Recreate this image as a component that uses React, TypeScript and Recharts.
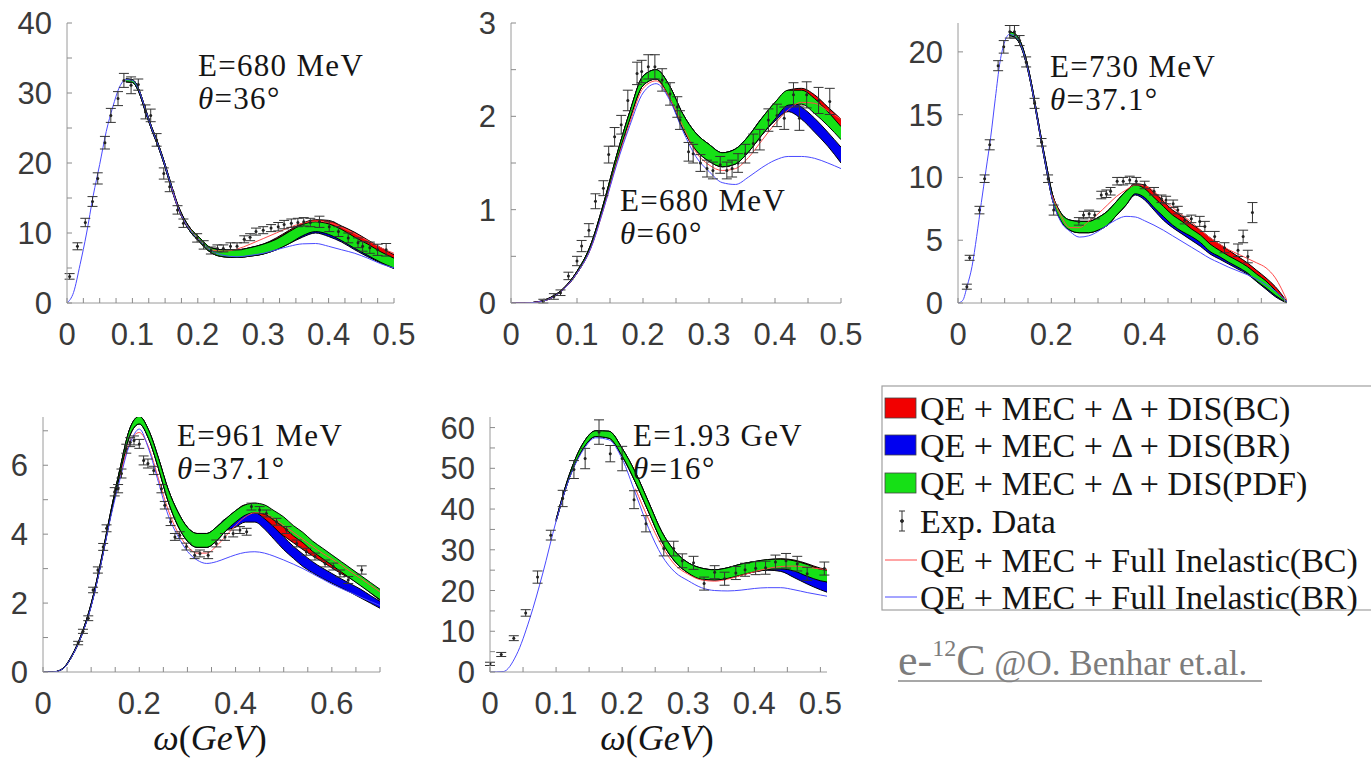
import React from 'react';
import { ComposedChart, Area, Line, Scatter, ErrorBar, XAxis, YAxis } from 'recharts';

const _ = null;
type N = number | null;

// ---------------- Panel 1 : E=680 MeV, theta=36 ----------------
const p1W = [0, 0.01, 0.02, 0.03, 0.04, 0.05, 0.06, 0.07, 0.08, 0.09, 0.1, 0.11, 0.12, 0.13, 0.14, 0.15, 0.16, 0.17, 0.18, 0.19, 0.2, 0.22, 0.24, 0.26, 0.28, 0.3, 0.32, 0.34, 0.36, 0.38, 0.4, 0.42, 0.44, 0.46, 0.48, 0.5];
const p1BlueLine: N[] = [0, 1.5, 5.5, 10, 15.3, 19.8, 24.5, 28, 30.8, 31.9, 31.8, 30.4, 27.6, 24.8, 22.4, 19.6, 16.5, 13.6, 11.6, 10.2, 9.2, 7.5, 6.8, 6.6, 6.8, 7.1, 7.6, 8.1, 8.45, 8.5, 8.1, 7.6, 7.1, 6.4, 5.6, 5.0];
const p1RedLine: N[] = [_, _, _, _, _, _, _, _, _, _, _, _, _, _, _, _, 16.5, 13.6, 11.6, 10.3, 9.3, 7.6, 7.4, 7.7, 8.4, 9.2, 10.0, 10.8, 11.4, 11.7, 11.5, 10.8, 9.9, 8.9, 7.9, 7.1];
const p1GreenLo: N[] = [_, _, _, _, _, _, _, _, _, 31.6, 31.5, 30.1, 27.3, 24.6, 22.2, 19.4, 16.3, 13.5, 11.5, 10.0, 9.0, 7.2, 6.6, 6.5, 6.7, 7.0, 7.6, 8.5, 9.6, 10.2, 9.8, 8.9, 7.8, 6.8, 5.8, 5.0];
const p1GreenHi: N[] = [_, _, _, _, _, _, _, _, _, 32.0, 31.9, 30.5, 27.7, 25.0, 22.6, 19.8, 16.7, 13.9, 11.9, 10.5, 9.6, 7.9, 7.6, 7.6, 7.9, 8.4, 9.1, 10.2, 11.2, 11.6, 11.3, 10.5, 9.4, 8.4, 7.3, 6.4];
const p1RedLo: N[] = [_, _, _, _, _, _, _, _, _, 31.6, 31.5, 30.1, 27.3, 24.6, 22.2, 19.4, 16.3, 13.5, 11.5, 10.0, 9.0, 7.2, 6.6, 6.5, 6.7, 7.0, 7.9, 8.8, 9.9, 10.6, 10.6, 9.9, 8.9, 7.9, 6.8, 5.7];
const p1RedHi: N[] = [_, _, _, _, _, _, _, _, _, 32.0, 31.9, 30.5, 27.7, 25.0, 22.6, 19.8, 16.7, 13.9, 11.9, 10.5, 9.6, 7.9, 7.6, 7.6, 7.9, 8.4, 9.3, 10.4, 11.4, 11.9, 11.8, 11.0, 10.1, 9.0, 7.9, 6.9];
const p1BlueLo: N[] = [_, _, _, _, _, _, _, _, _, 31.6, 31.5, 30.1, 27.3, 24.6, 22.2, 19.4, 16.3, 13.5, 11.5, 10.0, 9.0, 7.2, 6.6, 6.5, 6.7, 7.0, 7.6, 8.5, 9.4, 10.0, 9.5, 8.7, 7.6, 6.6, 5.7, 4.9];
const p1BlueHi: N[] = [_, _, _, _, _, _, _, _, _, 32.0, 31.9, 30.5, 27.7, 25.0, 22.6, 19.8, 16.7, 13.9, 11.9, 10.5, 9.6, 7.9, 7.6, 7.6, 7.9, 8.4, 9.1, 10.2, 10.6, 11.0, 10.6, 9.7, 8.6, 7.6, 6.6, 5.7];
const p1Points = [
  [0.004, 3.8, 0.4], [0.016, 8.1, 0.5], [0.028, 11.5, 0.6], [0.039, 14.5, 0.7], [0.047, 17.8, 0.8], [0.058, 22.9, 0.9], [0.067, 26.8, 1.0], [0.078, 29.2, 1.0], [0.087, 31.8, 1.0], [0.098, 31.1, 1.2], [0.109, 31.2, 0.8], [0.12, 27.3, 1.0], [0.128, 26.8, 0.9], [0.137, 23.3, 0.9], [0.148, 18.5, 0.8], [0.157, 16.6, 0.7], [0.169, 13.3, 0.6], [0.178, 11.4, 0.6], [0.199, 9.3, 0.6], [0.209, 8.3, 0.6], [0.22, 7.5, 0.5], [0.23, 7.8, 0.5], [0.239, 7.8, 0.5], [0.25, 8.1, 0.5], [0.26, 8.1, 0.5], [0.271, 9.1, 0.5], [0.28, 9.4, 0.5], [0.289, 10.2, 0.5], [0.3, 10.4, 0.5], [0.312, 10.7, 0.5], [0.323, 10.9, 0.6], [0.332, 11.2, 0.6], [0.343, 11.4, 0.6], [0.353, 11.5, 0.6], [0.362, 11.6, 0.6], [0.372, 11.5, 0.6], [0.386, 11.6, 0.8], [0.401, 10.9, 0.7], [0.415, 10.2, 0.7], [0.43, 9.3, 0.7], [0.445, 8.6, 0.7], [0.452, 8.1, 0.7], [0.463, 7.9, 0.8], [0.475, 7.6, 0.8], [0.488, 7.6, 0.9],
];

// ---------------- Panel 2 : E=680 MeV, theta=60 ----------------
const p2W = [0, 0.02, 0.04, 0.06, 0.08, 0.1, 0.12, 0.14, 0.16, 0.18, 0.2, 0.22, 0.24, 0.26, 0.28, 0.3, 0.32, 0.34, 0.36, 0.38, 0.4, 0.42, 0.44, 0.46, 0.48, 0.5];
const p2BlueLine: N[] = [0, 0, 0.01, 0.05, 0.15, 0.32, 0.57, 1.0, 1.48, 1.9, 2.25, 2.35, 2.18, 1.85, 1.57, 1.41, 1.29, 1.27, 1.35, 1.45, 1.53, 1.57, 1.57, 1.55, 1.5, 1.44];
const p2RedLine: N[] = [0, 0, 0.01, 0.05, 0.15, 0.32, 0.57, 1.0, 1.5, 1.93, 2.3, 2.38, 2.2, 1.9, 1.62, 1.48, 1.42, 1.44, 1.56, 1.74, 1.92, 2.07, 2.15, 2.14, 2.06, 1.97];
const p2GreenLo: N[] = [0, 0, 0.01, 0.05, 0.15, 0.32, 0.58, 1.02, 1.52, 1.97, 2.33, 2.4, 2.2, 1.87, 1.64, 1.52, 1.46, 1.49, 1.62, 1.8, 1.97, 2.12, 2.13, 2.03, 1.9, 1.75];
const p2GreenHi: N[] = [0, 0, 0.012, 0.06, 0.16, 0.34, 0.61, 1.06, 1.58, 2.05, 2.43, 2.5, 2.33, 2.03, 1.82, 1.7, 1.61, 1.65, 1.79, 1.98, 2.15, 2.28, 2.28, 2.19, 2.05, 1.89];
const p2RedLo: N[] = [0, 0, 0.01, 0.05, 0.15, 0.32, 0.58, 1.02, 1.52, 1.97, 2.33, 2.4, 2.2, 1.87, 1.64, 1.52, 1.46, 1.49, 1.62, 1.8, 1.97, 2.12, 2.15, 2.07, 1.95, 1.82];
const p2RedHi: N[] = [0, 0, 0.012, 0.06, 0.16, 0.34, 0.61, 1.06, 1.58, 2.05, 2.43, 2.5, 2.33, 2.03, 1.82, 1.7, 1.61, 1.65, 1.79, 1.98, 2.15, 2.28, 2.3, 2.23, 2.1, 1.97];
const p2BlueLo: N[] = [0, 0, 0.01, 0.05, 0.15, 0.32, 0.58, 1.02, 1.52, 1.97, 2.33, 2.4, 2.2, 1.87, 1.64, 1.52, 1.46, 1.49, 1.62, 1.8, 1.95, 2.05, 1.97, 1.83, 1.68, 1.5];
const p2BlueHi: N[] = [0, 0, 0.012, 0.06, 0.16, 0.34, 0.61, 1.06, 1.58, 2.05, 2.43, 2.5, 2.33, 2.03, 1.82, 1.7, 1.61, 1.65, 1.79, 1.98, 2.1, 2.17, 2.1, 1.98, 1.83, 1.67];
const p2Points = [
  [0.049, 0.02, 0.02], [0.065, 0.07, 0.03], [0.075, 0.11, 0.03], [0.087, 0.29, 0.04], [0.1, 0.45, 0.05], [0.107, 0.61, 0.06], [0.118, 0.78, 0.07], [0.128, 1.09, 0.08], [0.14, 1.23, 0.08], [0.148, 1.59, 0.09], [0.157, 1.78, 0.1], [0.167, 1.91, 0.1], [0.177, 2.17, 0.11], [0.191, 2.46, 0.12], [0.198, 2.48, 0.12], [0.208, 2.53, 0.13], [0.218, 2.53, 0.13], [0.229, 2.39, 0.12], [0.241, 2.24, 0.12], [0.252, 2.1, 0.11], [0.256, 1.96, 0.1], [0.269, 1.62, 0.1], [0.276, 1.6, 0.1], [0.287, 1.5, 0.09], [0.297, 1.44, 0.09], [0.306, 1.42, 0.09], [0.317, 1.48, 0.09], [0.327, 1.42, 0.09], [0.335, 1.44, 0.09], [0.344, 1.5, 0.1], [0.355, 1.6, 0.1], [0.367, 1.71, 0.1], [0.377, 1.75, 0.11], [0.39, 1.96, 0.12], [0.403, 2.01, 0.12], [0.414, 1.98, 0.12], [0.428, 2.23, 0.13], [0.437, 1.98, 0.13], [0.448, 2.23, 0.14], [0.466, 2.17, 0.14], [0.483, 2.16, 0.14],
];

// ---------------- Panel 3 : E=730 MeV, theta=37.1 ----------------
const p3W = [0, 0.01, 0.02, 0.03, 0.04, 0.05, 0.06, 0.07, 0.08, 0.09, 0.1, 0.11, 0.12, 0.13, 0.14, 0.15, 0.16, 0.17, 0.18, 0.19, 0.2, 0.22, 0.24, 0.26, 0.28, 0.3, 0.32, 0.34, 0.36, 0.38, 0.4, 0.42, 0.44, 0.46, 0.48, 0.5, 0.52, 0.54, 0.56, 0.58, 0.6, 0.62, 0.64, 0.66, 0.68, 0.705];
const p3BlueLine: N[] = [0, 0.2, 1.4, 2.9, 5.3, 8.0, 10.6, 13.2, 16.3, 19.2, 20.8, 21.4, 21.3, 20.9, 20.0, 18.6, 16.8, 14.7, 12.6, 10.6, 8.6, 6.5, 5.7, 5.25, 5.35, 5.7, 6.2, 6.65, 6.9, 6.85, 6.55, 6.2, 5.8, 5.35, 4.9, 4.45, 4.0, 3.55, 3.2, 2.85, 2.55, 2.25, 1.9, 1.45, 0.95, 0.1];
const p3RedLine: N[] = [_, _, _, _, _, _, _, _, _, _, _, _, _, _, _, _, _, _, _, _, 8.7, 7.0, 6.0, 6.0, 6.5, 7.1, 7.8, 8.5, 9.0, 9.4, 9.35, 8.9, 8.2, 7.6, 7.0, 6.45, 5.8, 5.2, 4.7, 4.25, 3.9, 3.55, 3.2, 2.8, 2.0, 0.2];
const p3GreenLo: N[] = [_, _, _, _, _, _, _, _, _, _, _, 21.3, 21.2, 20.8, 19.9, 18.5, 16.7, 14.6, 12.5, 10.5, 8.6, 6.6, 5.8, 5.6, 5.6, 5.8, 6.2, 7.0, 7.8, 8.7, 8.4, 7.6, 6.9, 6.2, 5.7, 5.3, 4.8, 4.1, 3.7, 3.25, 2.85, 2.4, 1.75, 1.2, 0.6, 0];
const p3GreenHi: N[] = [_, _, _, _, _, _, _, _, _, _, _, 21.6, 21.5, 21.1, 20.2, 18.8, 17.0, 14.9, 12.8, 10.9, 9.0, 7.2, 6.6, 6.5, 6.5, 6.8, 7.3, 8.1, 8.9, 9.4, 9.1, 8.4, 7.7, 7.0, 6.5, 5.9, 5.4, 4.7, 4.2, 3.75, 3.35, 2.9, 2.3, 1.75, 1.0, 0.05];
const p3RedLo: N[] = [_, _, _, _, _, _, _, _, _, _, _, 21.3, 21.2, 20.8, 19.9, 18.5, 16.7, 14.6, 12.5, 10.5, 8.6, 6.6, 5.8, 5.6, 5.6, 5.8, 6.2, 7.0, 7.8, 8.9, 8.8, 8.1, 7.4, 6.7, 6.2, 5.6, 5.1, 4.6, 4.1, 3.6, 3.2, 2.7, 2.1, 1.5, 0.8, 0];
const p3RedHi: N[] = [_, _, _, _, _, _, _, _, _, _, _, 21.6, 21.5, 21.1, 20.2, 18.8, 17.0, 14.9, 12.8, 10.9, 9.0, 7.2, 6.6, 6.5, 6.5, 6.8, 7.3, 8.1, 8.9, 9.5, 9.4, 8.8, 8.1, 7.4, 6.9, 6.3, 5.8, 5.2, 4.7, 4.2, 3.7, 3.2, 2.6, 2.0, 1.3, 0.1];
const p3BlueLo: N[] = [_, _, _, _, _, _, _, _, _, _, _, 21.3, 21.2, 20.8, 19.9, 18.5, 16.7, 14.6, 12.5, 10.5, 8.6, 6.6, 5.8, 5.6, 5.6, 5.8, 6.2, 7.0, 7.8, 8.6, 8.2, 7.4, 6.6, 6.0, 5.5, 5.0, 4.5, 3.9, 3.5, 3.1, 2.7, 2.3, 1.7, 1.1, 0.5, 0];
const p3BlueHi: N[] = [_, _, _, _, _, _, _, _, _, _, _, 21.6, 21.5, 21.1, 20.2, 18.8, 17.0, 14.9, 12.8, 10.9, 9.0, 7.2, 6.6, 6.5, 6.5, 6.8, 7.3, 8.1, 8.9, 9.2, 8.9, 8.0, 7.2, 6.5, 6.0, 5.4, 4.9, 4.3, 3.9, 3.4, 3.0, 2.6, 2.0, 1.4, 0.8, 0.05];
const p3Points = [
  [0.019, 1.3, 0.2], [0.025, 3.6, 0.2], [0.046, 7.4, 0.3], [0.057, 9.9, 0.3], [0.068, 12.6, 0.4], [0.086, 18.9, 0.4], [0.098, 20.4, 0.5], [0.111, 21.6, 0.5], [0.121, 21.6, 0.5], [0.132, 20.9, 0.4], [0.146, 19.2, 0.4], [0.164, 15.9, 0.4], [0.179, 12.8, 0.3], [0.193, 9.9, 0.3], [0.205, 7.4, 0.4], [0.259, 6.5, 0.3], [0.269, 7.0, 0.3], [0.281, 7.1, 0.3], [0.293, 7.0, 0.3], [0.307, 8.6, 0.3], [0.318, 8.7, 0.3], [0.327, 8.9, 0.3], [0.341, 9.7, 0.3], [0.354, 9.7, 0.3], [0.368, 9.8, 0.3], [0.382, 9.7, 0.3], [0.4, 9.4, 0.3], [0.42, 8.9, 0.3], [0.436, 8.3, 0.3], [0.446, 8.2, 0.3], [0.461, 7.9, 0.3], [0.471, 7.4, 0.3], [0.486, 6.6, 0.3], [0.5, 6.7, 0.3], [0.518, 6.5, 0.4], [0.529, 6.1, 0.4], [0.55, 5.3, 0.4], [0.571, 4.4, 0.4], [0.6, 4.2, 0.5], [0.611, 5.3, 0.5], [0.621, 3.7, 0.5], [0.631, 7.2, 0.8],
];

// ---------------- Panel 4 : E=961 MeV, theta=37.1 ----------------
const p4W = [0, 0.02, 0.04, 0.06, 0.08, 0.1, 0.12, 0.14, 0.16, 0.18, 0.2, 0.22, 0.24, 0.26, 0.28, 0.3, 0.32, 0.34, 0.36, 0.38, 0.4, 0.42, 0.44, 0.46, 0.48, 0.5, 0.52, 0.54, 0.56, 0.58, 0.6, 0.62, 0.64, 0.66, 0.68, 0.7];
const p4BlueLine: N[] = [0, 0, 0.08, 0.45, 1.05, 1.9, 3.1, 4.45, 5.6, 6.6, 7.05, 6.45, 5.5, 4.55, 3.95, 3.5, 3.25, 3.15, 3.2, 3.3, 3.4, 3.47, 3.49, 3.45, 3.36, 3.25, 3.13, 3.0, 2.85, 2.7, 2.55, 2.42, 2.3, 2.17, 2.05, 1.93];
const p4RedLine: N[] = [_, _, _, _, _, _, _, _, 5.65, 6.65, 6.95, 6.5, 5.6, 4.7, 4.05, 3.65, 3.45, 3.45, 3.65, 3.95, 4.25, 4.5, 4.62, 4.6, 4.45, 4.25, 4.05, 3.85, 3.65, 3.45, 3.28, 3.1, 2.9, 2.72, 2.52, 2.33];
const p4GreenLo: N[] = [0, 0, 0.08, 0.45, 1.05, 1.92, 3.12, 4.5, 5.75, 6.85, 7.2, 6.75, 5.9, 4.95, 4.25, 3.8, 3.62, 3.62, 3.8, 4.1, 4.35, 4.55, 4.62, 4.58, 4.4, 4.2, 3.95, 3.75, 3.5, 3.3, 3.1, 2.9, 2.7, 2.5, 2.3, 2.1];
const p4GreenHi: N[] = [0, 0, 0.09, 0.48, 1.1, 1.98, 3.2, 4.6, 5.9, 7.05, 7.42, 7.0, 6.2, 5.3, 4.65, 4.2, 4.02, 4.02, 4.2, 4.45, 4.68, 4.85, 4.9, 4.85, 4.68, 4.5, 4.25, 4.05, 3.8, 3.6, 3.4, 3.2, 3.0, 2.8, 2.6, 2.4];
const p4RedLo: N[] = [0, 0, 0.08, 0.45, 1.05, 1.92, 3.12, 4.5, 5.75, 6.85, 7.2, 6.75, 5.9, 4.95, 4.25, 3.8, 3.62, 3.62, 3.8, 4.1, 4.35, 4.55, 4.45, 4.35, 4.15, 3.95, 3.75, 3.55, 3.37, 3.2, 3.02, 2.85, 2.7, 2.52, 2.3, 2.08];
const p4RedHi: N[] = [0, 0, 0.09, 0.48, 1.1, 1.98, 3.2, 4.6, 5.9, 7.05, 7.42, 7.0, 6.2, 5.3, 4.65, 4.2, 4.02, 4.02, 4.2, 4.45, 4.68, 4.85, 4.75, 4.65, 4.45, 4.22, 4.02, 3.83, 3.64, 3.46, 3.28, 3.1, 2.93, 2.75, 2.52, 2.3];
const p4BlueLo: N[] = [0, 0, 0.08, 0.45, 1.05, 1.92, 3.12, 4.5, 5.75, 6.85, 7.2, 6.75, 5.9, 4.95, 4.25, 3.8, 3.62, 3.62, 3.8, 4.1, 4.2, 4.35, 4.35, 4.15, 3.85, 3.55, 3.3, 3.06, 2.88, 2.72, 2.58, 2.44, 2.3, 2.15, 2.0, 1.85];
const p4BlueHi: N[] = [0, 0, 0.09, 0.48, 1.1, 1.98, 3.2, 4.6, 5.9, 7.05, 7.42, 7.0, 6.2, 5.3, 4.65, 4.2, 4.02, 4.02, 4.2, 4.45, 4.5, 4.6, 4.62, 4.45, 4.2, 3.92, 3.65, 3.42, 3.2, 3.02, 2.86, 2.7, 2.55, 2.4, 2.22, 2.05];
const p4Points = [
  [0.073, 0.84, 0.05], [0.083, 1.18, 0.06], [0.094, 1.56, 0.07], [0.104, 2.38, 0.08], [0.114, 2.96, 0.09], [0.125, 3.63, 0.1], [0.132, 4.17, 0.1], [0.149, 5.23, 0.12], [0.156, 5.32, 0.12], [0.163, 5.76, 0.13], [0.173, 6.48, 0.13], [0.181, 6.67, 0.13], [0.189, 6.72, 0.13], [0.2, 6.62, 0.13], [0.209, 6.14, 0.13], [0.218, 6.05, 0.13], [0.23, 5.85, 0.12], [0.246, 5.32, 0.12], [0.253, 4.84, 0.11], [0.265, 4.36, 0.11], [0.274, 3.92, 0.1], [0.284, 3.97, 0.1], [0.298, 3.64, 0.1], [0.315, 3.39, 0.1], [0.326, 3.44, 0.1], [0.343, 3.39, 0.1], [0.36, 3.73, 0.1], [0.378, 3.92, 0.1], [0.395, 4.02, 0.1], [0.409, 4.12, 0.1], [0.423, 4.07, 0.1], [0.433, 4.8, 0.1], [0.45, 4.7, 0.1], [0.464, 4.6, 0.1], [0.485, 4.36, 0.1], [0.506, 4.12, 0.1], [0.527, 3.73, 0.1], [0.547, 3.49, 0.1], [0.565, 3.35, 0.1], [0.586, 3.15, 0.1], [0.603, 3.06, 0.1], [0.617, 2.86, 0.1], [0.634, 2.67, 0.1], [0.662, 2.96, 0.12],
];

// ---------------- Panel 5 : E=1.93 GeV, theta=16 ----------------
const p5W = [0, 0.02, 0.04, 0.06, 0.08, 0.1, 0.12, 0.14, 0.16, 0.18, 0.2, 0.22, 0.24, 0.26, 0.28, 0.3, 0.32, 0.34, 0.36, 0.38, 0.4, 0.42, 0.44, 0.46, 0.48, 0.5, 0.51];
const p5BlueLine: N[] = [0, 0.1, 4.2, 13.0, 24.3, 37.0, 47.5, 54.2, 57.5, 57.0, 52.3, 43.9, 35.3, 28.6, 24.5, 22.4, 20.7, 20.0, 19.9, 20.1, 20.5, 20.7, 20.7, 20.2, 19.5, 18.9, 18.6];
const p5RedLine: N[] = [_, _, _, _, _, _, _, _, _, _, _, 45, 37.5, 31.0, 26.3, 24.0, 22.6, 22.3, 22.8, 23.7, 24.6, 25.4, 25.9, 26.0, 25.7, 25.3, 25.1];
const p5GreenLo: N[] = [_, _, _, _, _, 37.0, 47.6, 54.6, 57.8, 57.4, 53.0, 46.6, 39.3, 32.0, 27.1, 24.3, 22.8, 22.6, 23.0, 23.8, 24.6, 25.1, 25.3, 24.8, 23.5, 22.4, 22.1];
const p5GreenHi: N[] = [_, _, _, _, _, 37.4, 48.4, 55.9, 59.2, 59.1, 54.9, 49.0, 41.7, 34.4, 29.6, 26.8, 25.5, 25.1, 25.6, 26.5, 27.1, 27.6, 27.7, 27.3, 26.4, 25.2, 25.0];
const p5RedLo: N[] = [_, _, _, _, _, 37.0, 47.6, 54.6, 57.8, 57.4, 53.0, 46.6, 39.3, 32.0, 27.1, 24.3, 22.8, 22.6, 23.0, 23.8, 24.6, 25.1, 25.3, 25.0, 24.0, 23.0, 22.6];
const p5RedHi: N[] = [_, _, _, _, _, 37.4, 48.4, 55.9, 59.2, 59.1, 54.9, 49.0, 41.7, 34.4, 29.6, 26.8, 25.5, 25.1, 25.6, 26.5, 27.1, 27.6, 27.8, 27.5, 26.6, 25.5, 25.2];
const p5BlueLo: N[] = [_, _, _, _, _, 37.0, 47.6, 54.6, 57.8, 57.4, 53.0, 46.6, 39.3, 32.0, 27.1, 24.3, 22.8, 22.6, 23.0, 23.8, 24.6, 25.0, 24.7, 23.2, 21.6, 20.2, 19.6];
const p5BlueHi: N[] = [_, _, _, _, _, 37.4, 48.4, 55.9, 59.2, 59.1, 54.9, 49.0, 41.7, 34.4, 29.6, 26.8, 25.5, 25.1, 25.6, 26.5, 27.1, 27.3, 27.0, 26.0, 24.3, 22.6, 22.1];
const p5Points = [
  [0, 2.0, 0.4], [0.017, 4.3, 0.5], [0.036, 8.3, 0.6], [0.054, 14.5, 0.8], [0.072, 23.3, 1.5], [0.092, 33.6, 1.2], [0.11, 42.6, 2.0], [0.127, 49.7, 2.2], [0.144, 52.4, 2.5], [0.165, 58.9, 3.0], [0.182, 53.6, 2.0], [0.2, 52.4, 3.0], [0.218, 42.3, 2.2], [0.236, 36.4, 2.0], [0.263, 30.3, 1.8], [0.278, 30.3, 1.8], [0.291, 27.3, 1.7], [0.308, 26.8, 1.6], [0.324, 21.7, 1.6], [0.34, 24.5, 1.6], [0.355, 22.9, 1.6], [0.372, 24.3, 1.6], [0.386, 25.1, 1.6], [0.402, 25.5, 1.6], [0.417, 25.6, 1.6], [0.432, 27.0, 1.7], [0.448, 27.3, 1.8], [0.465, 26.6, 1.8], [0.48, 24.1, 1.6], [0.506, 25.4, 1.6],
];

// ---------------- Axis ticks ----------------
const xMajorHalf = [0, 0.1, 0.2, 0.3, 0.4, 0.5];
const xMajorSeven = [0, 0.2, 0.4, 0.6];
const p1YMajor = [0, 10, 20, 30, 40];
const p2YMajor = [0, 1, 2, 3];
const p3YMajor = [0, 5, 10, 15, 20];
const p4YMajor = [0, 2, 4, 6];
const p5YMajor = [0, 10, 20, 30, 40, 50, 60];

// ---------------- Texts ----------------
const panelTitles = [
  { e: 'E=680 MeV', t: '=36°' },
  { e: 'E=680 MeV', t: '=60°' },
  { e: 'E=730 MeV', t: '=37.1°' },
  { e: 'E=961 MeV', t: '=37.1°' },
  { e: 'E=1.93 GeV', t: '=16°' },
];
const legendLabels = [
  'QE + MEC + Δ + DIS(BC)',
  'QE + MEC + Δ + DIS(BR)',
  'QE + MEC + Δ + DIS(PDF)',
  'Exp. Data',
  'QE + MEC + Full Inelastic(BC)',
  'QE + MEC + Full Inelastic(BR)',
];

const SANS = "'Liberation Sans', Arial, Helvetica, sans-serif";
const SERIF = "'Liberation Serif', 'Times New Roman', serif";
const RED = '#f20000';
const BLUE = '#0000f0';
const GREEN = '#16e016';

function pair(lo: N, hi: N) {
  return lo == null || hi == null ? null : [lo, hi];
}

function buildRows(w: number[], blueLine: N[], redLine: N[], gLo: N[], gHi: N[], rLo: N[], rHi: N[], bLo: N[], bHi: N[]) {
  return w.map((x, i) => ({
    w: x,
    blueLine: blueLine[i],
    redLine: redLine[i],
    green: pair(gLo[i], gHi[i]),
    redBand: pair(rLo[i], rHi[i]),
    blueBand: pair(bLo[i], bHi[i]),
  }));
}

function buildPoints(pts: number[][]) {
  return pts.map(([w, v, e]) => ({ w, v, e }));
}

function tickList(max: number, step: number) {
  const out: number[] = [];
  for (let i = 0; i * step <= max + 1e-9; i++) out.push(Math.round(i * step * 10000) / 10000);
  return out;
}

const fmt = (v: number) => String(Math.round(v * 1000) / 1000);
const isMajor = (majors: number[], v: number) => majors.some((m) => Math.abs(m - v) < 1e-6);

function XTick(props: any) {
  const { x, y, payload, majors } = props;
  const v = payload.value;
  return (
    <g>
      <line x1={x} x2={x} y1={y} y2={y - 5} stroke="#8a8a8a" strokeWidth={1} />
      {isMajor(majors, v) && (
        <text x={x} y={y + 42} textAnchor="middle" fontSize={31} fontFamily={SANS} fill="#3a3a3a">
          {fmt(v)}
        </text>
      )}
    </g>
  );
}

function YTick(props: any) {
  const { x, y, payload, majors } = props;
  const v = payload.value;
  return (
    <g>
      <line x1={x} x2={x + 5} y1={y} y2={y} stroke="#8a8a8a" strokeWidth={1} />
      {isMajor(majors, v) && (
        <text x={x - 15} y={y + 11} textAnchor="end" fontSize={31} fontFamily={SANS} fill="#3a3a3a">
          {fmt(v)}
        </text>
      )}
    </g>
  );
}

const DataDot = (s: any) => <circle cx={s.cx} cy={s.cy} r={1.5} fill="#222" />;

interface PanelProps {
  left: number;
  top: number;
  plotW: number;
  plotH: number;
  xMax: number;
  yMax: number;
  xMajor: number[];
  xStep: number;
  yMajor: number[];
  yStep: number;
  rows: any[];
  points: any[];
}

function Panel(p: PanelProps) {
  const ML = 80, MT = 20, MR = 30, MB = 60;
  const xTicks = tickList(p.xMax, p.xStep);
  const yTicks = tickList(p.yMax, p.yStep);
  const bandProps = { type: 'monotone' as const, stroke: '#000', strokeWidth: 1, fillOpacity: 1, connectNulls: true, dot: false, activeDot: false, isAnimationActive: false };
  return (
    <div style={{ position: 'absolute', left: p.left - ML, top: p.top - MT }}>
      <ComposedChart width={p.plotW + ML + MR} height={p.plotH + MT + MB} data={p.rows} margin={{ top: MT, right: MR, bottom: 0, left: 0 }}>
        <XAxis
          type="number"
          dataKey="w"
          domain={[0, p.xMax]}
          allowDataOverflow
          ticks={xTicks}
          interval={0}
          tickLine={false}
          tickSize={0}
          tickMargin={0}
          height={MB}
          axisLine={{ stroke: '#9a9a9a' }}
          tick={(t: any) => <XTick {...t} majors={p.xMajor} />}
        />
        <YAxis
          type="number"
          domain={[0, p.yMax]}
          allowDataOverflow
          ticks={yTicks}
          interval={0}
          tickLine={false}
          tickSize={0}
          tickMargin={0}
          width={ML}
          axisLine={{ stroke: '#9a9a9a' }}
          tick={(t: any) => <YTick {...t} majors={p.yMajor} />}
        />
        <Area dataKey="redBand" fill={RED} {...bandProps} />
        <Area dataKey="blueBand" fill={BLUE} {...bandProps} />
        <Area dataKey="green" fill={GREEN} {...bandProps} />
        <Line dataKey="redLine" type="monotone" stroke="#ff4a4a" strokeWidth={1} dot={false} activeDot={false} connectNulls isAnimationActive={false} />
        <Line dataKey="blueLine" type="monotone" stroke="#4a4aff" strokeWidth={1} dot={false} activeDot={false} connectNulls isAnimationActive={false} />
        <Scatter data={p.points} dataKey="v" shape={DataDot} isAnimationActive={false}>
          <ErrorBar dataKey="e" direction="y" width={5} stroke="#333" strokeWidth={1} isAnimationActive={false} />
        </Scatter>
      </ComposedChart>
    </div>
  );
}

function Title({ x, y, e, t }: { x: number; y: number; e: string; t: string }) {
  return (
    <g fontFamily={SERIF} fontSize={31} fill="#151515" letterSpacing={1.3}>
      <text x={x} y={y}>{e}</text>
      <text x={x} y={y + 33}>
        <tspan fontStyle="italic">θ</tspan>
        {t}
      </text>
    </g>
  );
}

export default function App() {
  const rows1 = buildRows(p1W, p1BlueLine, p1RedLine, p1GreenLo, p1GreenHi, p1RedLo, p1RedHi, p1BlueLo, p1BlueHi);
  const rows2 = buildRows(p2W, p2BlueLine, p2RedLine, p2GreenLo, p2GreenHi, p2RedLo, p2RedHi, p2BlueLo, p2BlueHi);
  const rows3 = buildRows(p3W, p3BlueLine, p3RedLine, p3GreenLo, p3GreenHi, p3RedLo, p3RedHi, p3BlueLo, p3BlueHi);
  const rows4 = buildRows(p4W, p4BlueLine, p4RedLine, p4GreenLo, p4GreenHi, p4RedLo, p4RedHi, p4BlueLo, p4BlueHi);
  const rows5 = buildRows(p5W, p5BlueLine, p5RedLine, p5GreenLo, p5GreenHi, p5RedLo, p5RedHi, p5BlueLo, p5BlueHi);

  const legendRowsY = [408, 445, 483, 521, 560, 597];
  const swatchColors = [RED, BLUE, GREEN];

  return (
    <div style={{ position: 'absolute', left: 0, top: 0, width: 1371, height: 761, background: '#fff', overflow: 'hidden' }}>
      <Panel left={67} top={23} plotW={327} plotH={280} xMax={0.5} yMax={40} xMajor={xMajorHalf} xStep={0.025} yMajor={p1YMajor} yStep={5} rows={rows1} points={buildPoints(p1Points)} />
      <Panel left={511} top={23} plotW={330} plotH={280} xMax={0.5} yMax={3} xMajor={xMajorHalf} xStep={0.05} yMajor={p2YMajor} yStep={0.5} rows={rows2} points={buildPoints(p2Points)} />
      <Panel left={958} top={23} plotW={329} plotH={280} xMax={0.705} yMax={22.3} xMajor={xMajorSeven} xStep={0.05} yMajor={p3YMajor} yStep={5} rows={rows3} points={buildPoints(p3Points)} />
      <Panel left={43} top={417} plotW={337} plotH={255} xMax={0.7} yMax={7.4} xMajor={xMajorSeven} xStep={0.05} yMajor={p4YMajor} yStep={1} rows={rows4} points={buildPoints(p4Points)} />
      <Panel left={490} top={417} plotW={337} plotH={255} xMax={0.51} yMax={62.6} xMajor={xMajorHalf} xStep={0.05} yMajor={p5YMajor} yStep={5} rows={rows5} points={buildPoints(p5Points)} />

      <svg width={1371} height={761} style={{ position: 'absolute', left: 0, top: 0, pointerEvents: 'none' }}>
        <Title x={198} y={76} e={panelTitles[0].e} t={panelTitles[0].t} />
        <Title x={620} y={211} e={panelTitles[1].e} t={panelTitles[1].t} />
        <Title x={1050} y={77} e={panelTitles[2].e} t={panelTitles[2].t} />
        <Title x={177} y={446} e={panelTitles[3].e} t={panelTitles[3].t} />
        <Title x={633} y={446} e={panelTitles[4].e} t={panelTitles[4].t} />

        <g fontFamily={SERIF} fontSize={36} fill="#151515">
          <text x={210} y={750} textAnchor="middle">
            <tspan fontStyle="italic">ω</tspan>(<tspan fontStyle="italic">GeV</tspan>)
          </text>
          <text x={657} y={750} textAnchor="middle">
            <tspan fontStyle="italic">ω</tspan>(<tspan fontStyle="italic">GeV</tspan>)
          </text>
        </g>

        <rect x={882} y={386} width={520} height={224} fill="#fff" stroke="#a0a0a0" strokeWidth={1.2} />
        {legendRowsY.map((cy, i) => (
          <g key={i}>
            {i < 3 && <rect x={885} y={cy - 10} width={31} height={20} fill={swatchColors[i]} stroke="#444" strokeWidth={0.8} />}
            {i === 3 && (
              <g stroke="#333" strokeWidth={1}>
                <line x1={902} x2={902} y1={cy - 10} y2={cy + 10} />
                <line x1={899} x2={905} y1={cy - 10} y2={cy - 10} />
                <line x1={899} x2={905} y1={cy + 10} y2={cy + 10} />
                <circle cx={902} cy={cy} r={1.5} fill="#222" />
              </g>
            )}
            {i === 4 && <line x1={885} x2={917} y1={cy} y2={cy} stroke="#ff4a4a" strokeWidth={1} />}
            {i === 5 && <line x1={885} x2={917} y1={cy} y2={cy} stroke="#4a4aff" strokeWidth={1} />}
            <text x={920} y={cy + 12} fontFamily={SERIF} fontSize={34} fill="#151515">
              {legendLabels[i]}
            </text>
          </g>
        ))}

        <text x={898} y={675} fontFamily={SERIF} fill="#7c7c7c">
          <tspan fontSize={44}>e-</tspan>
          <tspan fontSize={24} dy={-19}>12</tspan>
          <tspan fontSize={44} dy={19}>C</tspan>
          <tspan fontSize={35}> @O. Benhar et.al.</tspan>
        </text>
        <line x1={898} x2={1262} y1={681} y2={681} stroke="#8a8a8a" strokeWidth={1.5} />
      </svg>
    </div>
  );
}
